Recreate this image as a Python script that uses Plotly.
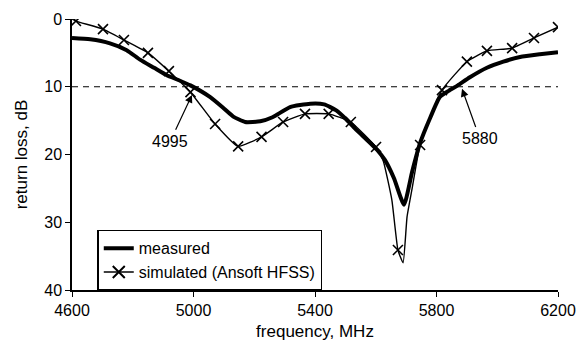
import plotly.graph_objects as go

# measured return loss
meas_freq = [4600, 4660, 4725, 4780, 4824, 4870, 4912, 4950, 4990, 5054, 5100, 5131, 5170,
             5220, 5260, 5318, 5384, 5430, 5470, 5505, 5537, 5575, 5604, 5630, 5660, 5693,
             5720, 5746, 5780, 5811, 5840, 5870, 5910, 5966, 6020, 6075, 6140, 6200]
meas_loss = [2.8, 3.0, 3.6, 4.6, 6.0, 7.2, 8.3, 9.0, 9.8, 11.5, 13.2, 14.4, 15.2,
             15.1, 14.5, 13.0, 12.5, 12.6, 13.5, 14.9, 16.4, 18.0, 19.3, 20.8, 23.5, 27.4,
             22.5, 18.3, 14.5, 11.5, 10.6, 9.8, 8.6, 7.2, 6.3, 5.6, 5.2, 4.9]

# simulated (Ansoft HFSS) curve
sim_freq = [4600, 4613, 4702, 4771, 4850, 4919, 4990, 5071, 5147, 5224, 5295, 5367, 5445,
            5518, 5601, 5625, 5653, 5673, 5690, 5703, 5719, 5746, 5818, 5900, 5966, 6049,
            6121, 6200]
sim_loss = [0.0, 0.3, 1.5, 3.1, 5.0, 7.7, 10.8, 15.5, 18.8, 17.4, 15.2, 14.0, 14.0,
            15.2, 18.9, 21.0, 26.7, 34.1, 36.0, 29.2, 25.2, 18.6, 10.5, 6.3, 4.7, 4.3,
            2.8, 1.2]
# simulated marker points
mark_freq = [4613, 4702, 4771, 4850, 4919, 4990, 5071, 5147, 5224, 5295, 5367, 5445,
             5518, 5601, 5673, 5746, 5818, 5900, 5966, 6049, 6121, 6200]
mark_loss = [0.3, 1.5, 3.1, 5.0, 7.7, 10.8, 15.5, 18.8, 17.4, 15.2, 14.0, 14.0,
             15.2, 18.9, 34.1, 18.6, 10.5, 6.3, 4.7, 4.3, 2.8, 1.2]

threshold = 10
x_ticks = [4600, 5000, 5400, 5800, 6200]
y_ticks = [0, 10, 20, 30, 40]
labels = ["4995", "5880"]
label_tip_f = [4995, 5884]
label_tip_db = [11.2, 10.3]
label_pos_f = [4923, 5943]
label_pos_db = [18.1, 17.7]

FONT = "Liberation Sans, Arial, sans-serif"

fig = go.Figure()
fig.add_trace(go.Scatter(x=meas_freq, y=meas_loss, mode="lines", name="measured",
                         line=dict(color="black", width=4, shape="spline", smoothing=0.5)))
fig.add_trace(go.Scatter(x=sim_freq, y=sim_loss, mode="lines", showlegend=False,
                         line=dict(color="black", width=1.4, shape="spline", smoothing=0.4)))
fig.add_trace(go.Scatter(x=mark_freq, y=mark_loss, mode="markers", showlegend=False,
                         marker=dict(symbol="x-thin", size=10, color="black",
                                     line=dict(color="black", width=1.6))))
fig.add_trace(go.Scatter(x=[None], y=[None], mode="lines+markers",
                         name="simulated (Ansoft HFSS)",
                         line=dict(color="black", width=1.6),
                         marker=dict(symbol="x-thin", size=12, color="black",
                                     line=dict(color="black", width=2))))

fig.add_shape(type="line", xref="x", yref="y", x0=x_ticks[0], x1=x_ticks[-1],
              y0=threshold, y1=threshold, line=dict(color="black", width=1, dash="6px,5px"))

for t, xf, yd, ax, ay in zip(labels, label_tip_f, label_tip_db, label_pos_f, label_pos_db):
    fig.add_annotation(x=xf, y=yd, ax=ax, ay=ay, xref="x", yref="y", axref="x", ayref="y",
                       text=t, showarrow=True, arrowhead=2, arrowsize=1.3, arrowwidth=1.2,
                       arrowcolor="black", standoff=0, startstandoff=2,
                       font=dict(family=FONT, size=16, color="black"))

fig.update_layout(
    width=580, height=341,
    margin=dict(l=72, r=22, t=19, b=51),
    paper_bgcolor="white", plot_bgcolor="white",
    font=dict(family=FONT, size=16, color="black"),
    showlegend=True,
    legend=dict(x=0.052, y=0.222, xanchor="left", yanchor="top",
                bordercolor="black", borderwidth=1.5, bgcolor="white",
                font=dict(family=FONT, size=16, color="black"),
                tracegroupgap=0, itemwidth=30),
)
fig.update_xaxes(range=[x_ticks[0], x_ticks[-1]], tickvals=x_ticks, ticks="outside",
                 ticklen=5, tickwidth=1.2, tickcolor="black", showline=True,
                 linecolor="black", linewidth=1.5, showgrid=False, zeroline=False,
                 automargin=False,
                 title=dict(text="frequency, MHz", standoff=12,
                            font=dict(family=FONT, size=17)))
fig.update_yaxes(range=[y_ticks[-1], y_ticks[0]], tickvals=y_ticks, ticks="outside",
                 ticklen=5, tickwidth=1.2, tickcolor="black", showline=True,
                 linecolor="black", linewidth=1.5, showgrid=False, zeroline=False,
                 automargin=False,
                 title=dict(text="return loss, dB", standoff=12,
                            font=dict(family=FONT, size=17)))

fig.write_html("out.html")
